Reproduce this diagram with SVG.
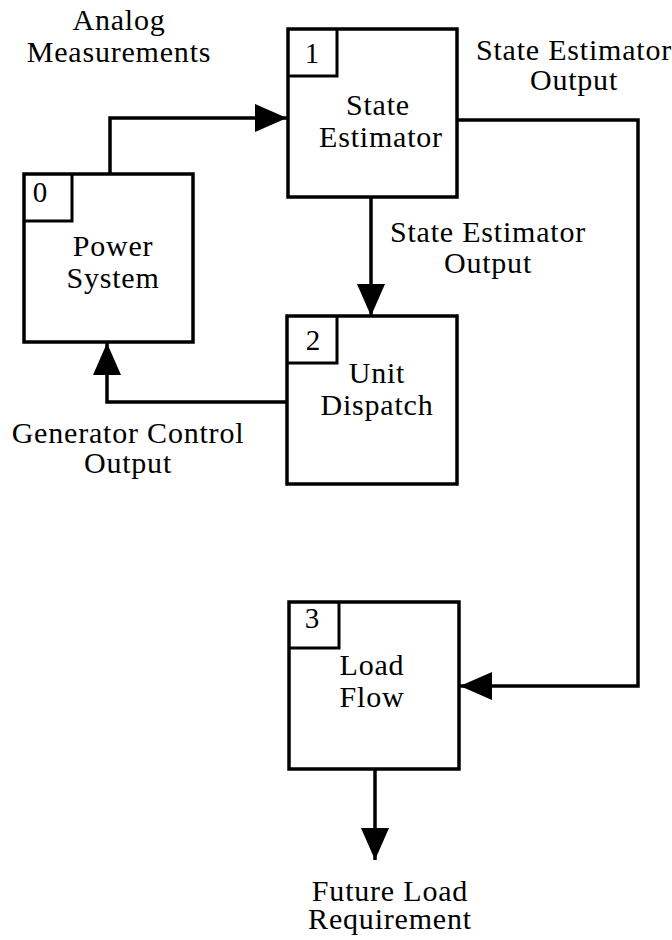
<svg xmlns="http://www.w3.org/2000/svg" width="672" height="940" viewBox="0 0 672 940">
<defs>
<style>
text{font-family:"Liberation Serif","Times New Roman",serif;font-size:30px;letter-spacing:0.8px;fill:#000;text-anchor:middle}
.box{fill:#fff;stroke:#000;stroke-width:3.5}
.tab{fill:none;stroke:#000;stroke-width:3}
.num{font-size:29px;letter-spacing:0}
.conn{fill:none;stroke:#000;stroke-width:3.5}
</style>
<marker id="ah" viewBox="0 0 32 28" refX="32" refY="14" markerWidth="32" markerHeight="28" markerUnits="userSpaceOnUse" orient="auto">
<path d="M0,0 L32,14 L0,28 Z" fill="#000"/>
</marker>
</defs>
<rect width="672" height="940" fill="#fff"/>
<g id="connectors">
<path class="conn" d="M110,174 V118 H287" marker-end="url(#ah)"/>
<path class="conn" d="M371,197 V316" marker-end="url(#ah)"/>
<path class="conn" d="M457,120 H638 V686 H460" marker-end="url(#ah)"/>
<path class="conn" d="M287,402 H107 V343" marker-end="url(#ah)"/>
<path class="conn" d="M375,769 V860" marker-end="url(#ah)"/>
</g>
<g id="labels">
<text x="119" y="30">Analog</text>
<text x="119" y="62">Measurements</text>
<text x="574" y="60">State Estimator</text>
<text x="574" y="90">Output</text>
<text x="488" y="242">State Estimator</text>
<text x="488" y="273">Output</text>
<text x="128" y="443">Generator Control</text>
<text x="128" y="473">Output</text>
<text x="390" y="901">Future Load</text>
<text x="390" y="929">Requirement</text>
</g>
<g id="node0">
<rect class="box" x="24" y="174" width="169" height="168"/>
<path class="tab" d="M24,221 H72 V174"/>
<text class="num" x="40" y="202">0</text>
<text x="113" y="256">Power</text>
<text x="113" y="288">System</text>
</g>
<g id="node1">
<rect class="box" x="288" y="29" width="169" height="168"/>
<path class="tab" d="M288,76 H337 V29"/>
<text class="num" x="312" y="63">1</text>
<text x="378" y="115">State</text>
<text x="381" y="147">Estimator</text>
</g>
<g id="node2">
<rect class="box" x="287" y="316" width="170" height="168"/>
<path class="tab" d="M287,363 H337 V316"/>
<text class="num" x="313" y="350">2</text>
<text x="377" y="383">Unit</text>
<text x="377" y="415">Dispatch</text>
</g>
<g id="node3">
<rect class="box" x="289" y="602" width="170" height="167"/>
<path class="tab" d="M289,648 H339 V602"/>
<text class="num" x="312" y="628">3</text>
<text x="372" y="675">Load</text>
<text x="372" y="707">Flow</text>
</g>
</svg>
